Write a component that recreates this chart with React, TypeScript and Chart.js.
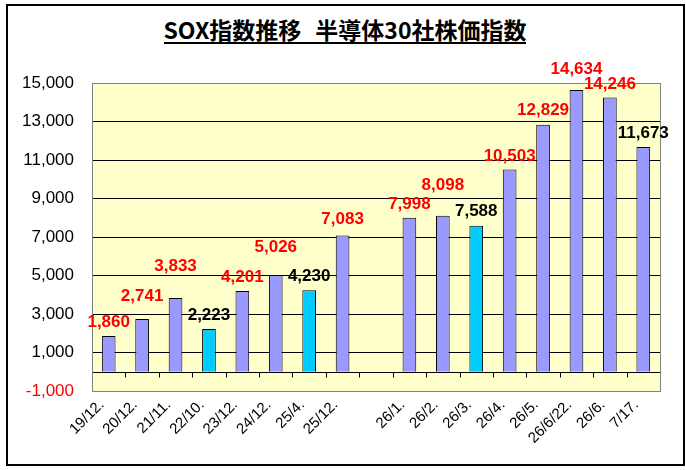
import React, { useEffect, useRef } from 'react';
import { Chart, registerables } from 'chart.js';

Chart.register(...registerables);

// ---- data ----
const categories: string[] = [
  '19/12.', '20/12.', '21/11.', '22/10.', '23/12.', '24/12.', '25/4.', '25/12.', '',
  '26/1.', '26/2.', '26/3.', '26/4.', '26/5.', '26/6/22.', '26/6.', '7/17.',
];
const sox: (number | null)[] = [
  1860, 2741, 3833, 2223, 4201, 5026, 4230, 7083, null,
  7998, 8098, 7588, 10503, 12829, 14634, 14246, 11673,
];
// bars drawn in cyan
const highlighted: boolean[] = [
  false, false, false, true, false, false, true, false, false,
  false, false, true, false, false, false, false, false,
];
// value labels drawn in black instead of red
const blackLabel: boolean[] = [
  false, false, false, true, false, false, true, false, false,
  false, false, true, false, false, false, false, true,
];
const yMin = -1000;
const yMax = 15000;
const yStep = 2000;

// ---- styling / layout (not data) ----
const labelLift = [0, 9, 18, 0, 0, 14, 0, 2, 0, 0, 17, 1, 0, 1, 7, 0, 0];
const FONT = '"Liberation Sans", Arial, sans-serif';
const PLOT = { left: 92, right: 660, top: 83, bottom: 391 };
const W = 686;
const H = 470;

const fmt = (v: number) => v.toLocaleString('en-US');

const decorPlugin = {
  id: 'decor',
  beforeDraw(chart: any) {
    const { ctx, chartArea } = chart;
    ctx.save();
    ctx.fillStyle = '#FFFFCC';
    ctx.fillRect(chartArea.left, chartArea.top, chartArea.right - chartArea.left, chartArea.bottom - chartArea.top);
    ctx.restore();
  },
  beforeDatasetsDraw(chart: any) {
    const { ctx, chartArea, scales } = chart;
    const y0 = Math.round(scales.y.getPixelForValue(0)) + 0.5;
    ctx.save();
    ctx.strokeStyle = '#000';
    ctx.lineWidth = 1;
    ctx.beginPath();
    ctx.moveTo(chartArea.left, y0);
    ctx.lineTo(chartArea.right, y0);
    const n = categories.length;
    const w = (chartArea.right - chartArea.left) / n;
    for (let k = 1; k < n; k++) {
      const x = Math.round(chartArea.left + k * w) + 0.5;
      ctx.moveTo(x, y0);
      ctx.lineTo(x, y0 + 5);
    }
    ctx.stroke();
    // plot-area border
    ctx.strokeStyle = '#808080';
    ctx.strokeRect(
      Math.round(chartArea.left) + 0.5,
      Math.round(chartArea.top) + 0.5,
      Math.round(chartArea.right - chartArea.left),
      Math.round(chartArea.bottom - chartArea.top)
    );
    ctx.restore();
  },
  afterDatasetsDraw(chart: any) {
    const { ctx } = chart;
    const meta = chart.getDatasetMeta(0);
    ctx.save();
    ctx.font = `bold 17px ${FONT}`;
    ctx.textAlign = 'center';
    ctx.textBaseline = 'alphabetic';
    meta.data.forEach((bar: any, i: number) => {
      const v = sox[i];
      if (v == null) return;
      ctx.fillStyle = blackLabel[i] ? '#000000' : '#FF0000';
      ctx.fillText(fmt(v), bar.x, bar.y - 9 - labelLift[i]);
    });
    ctx.restore();
  },
};

export default function App() {
  const ref = useRef<HTMLCanvasElement>(null);

  useEffect(() => {
    if (!ref.current) return;
    const chart = new Chart(ref.current, {
      type: 'bar',
      data: {
        labels: categories,
        datasets: [
          {
            data: sox,
            backgroundColor: highlighted.map((h) => (h ? '#00CCFF' : '#9999FF')),
            borderColor: '#000000',
            borderWidth: 1,
            barPercentage: 0.41,
            categoryPercentage: 1,
          },
        ],
      },
      options: {
        responsive: false,
        animation: false,
        layout: { padding: { left: 0, right: W - PLOT.right, top: PLOT.top, bottom: 0 } },
        plugins: {
          legend: { display: false },
          tooltip: { enabled: false },
          title: { display: false },
        },
        scales: {
          x: {
            grid: { display: false, drawTicks: false },
            border: { display: false },
            ticks: {
              autoSkip: false,
              minRotation: 45,
              maxRotation: 45,
              padding: 5,
              labelOffset: -7,
              color: '#000',
              font: { family: FONT, size: 15 },
            },
            afterFit(scale: any) {
              scale.height = H - PLOT.bottom;
            },
          },
          y: {
            min: yMin,
            max: yMax,
            grid: {
              drawTicks: false,
              color: (c: any) =>
                c.tick && (c.tick.value === yMin || c.tick.value === yMax) ? 'rgba(0,0,0,0)' : '#000',
              lineWidth: 1,
            },
            border: { display: false },
            ticks: {
              stepSize: yStep,
              padding: 18,
              color: (c: any) => (c.tick && c.tick.value < 0 ? '#FF0000' : '#000'),
              font: { family: FONT, size: 17 },
              callback: (v: any) => fmt(Number(v)),
            },
            afterFit(scale: any) {
              scale.width = PLOT.left;
            },
          },
        },
      },
      plugins: [decorPlugin],
    });
    return () => chart.destroy();
  }, []);

  return (
    <div style={{ position: 'fixed', left: 0, top: 0, width: W, height: H, background: '#fff', overflow: 'hidden' }}>
      <div
        style={{
          position: 'absolute',
          left: 6,
          top: 4,
          width: 675,
          height: 458,
          border: '2px solid #000',
        }}
      />
      <div
        style={{
          position: 'absolute',
          left: 0,
          width: W,
          top: 17,
          textAlign: 'center',
          paddingLeft: 4,
          boxSizing: 'border-box',
        }}
      >
        <span
          style={{
            display: 'inline-block',
            fontFamily: '"Noto Sans CJK JP", sans-serif',
            fontWeight: 'bold',
            fontSize: 23,
            lineHeight: '25px',
            color: '#000',
            borderBottom: '2px solid #000',
            whiteSpace: 'pre',
          }}
        >
          SOX指数推移<span style={{ display: 'inline-block', width: 14 }}> </span>半導体30社株価指数
        </span>
      </div>
      <canvas ref={ref} width={W} height={H} style={{ position: 'absolute', left: 0, top: 0 }} />
    </div>
  );
}
